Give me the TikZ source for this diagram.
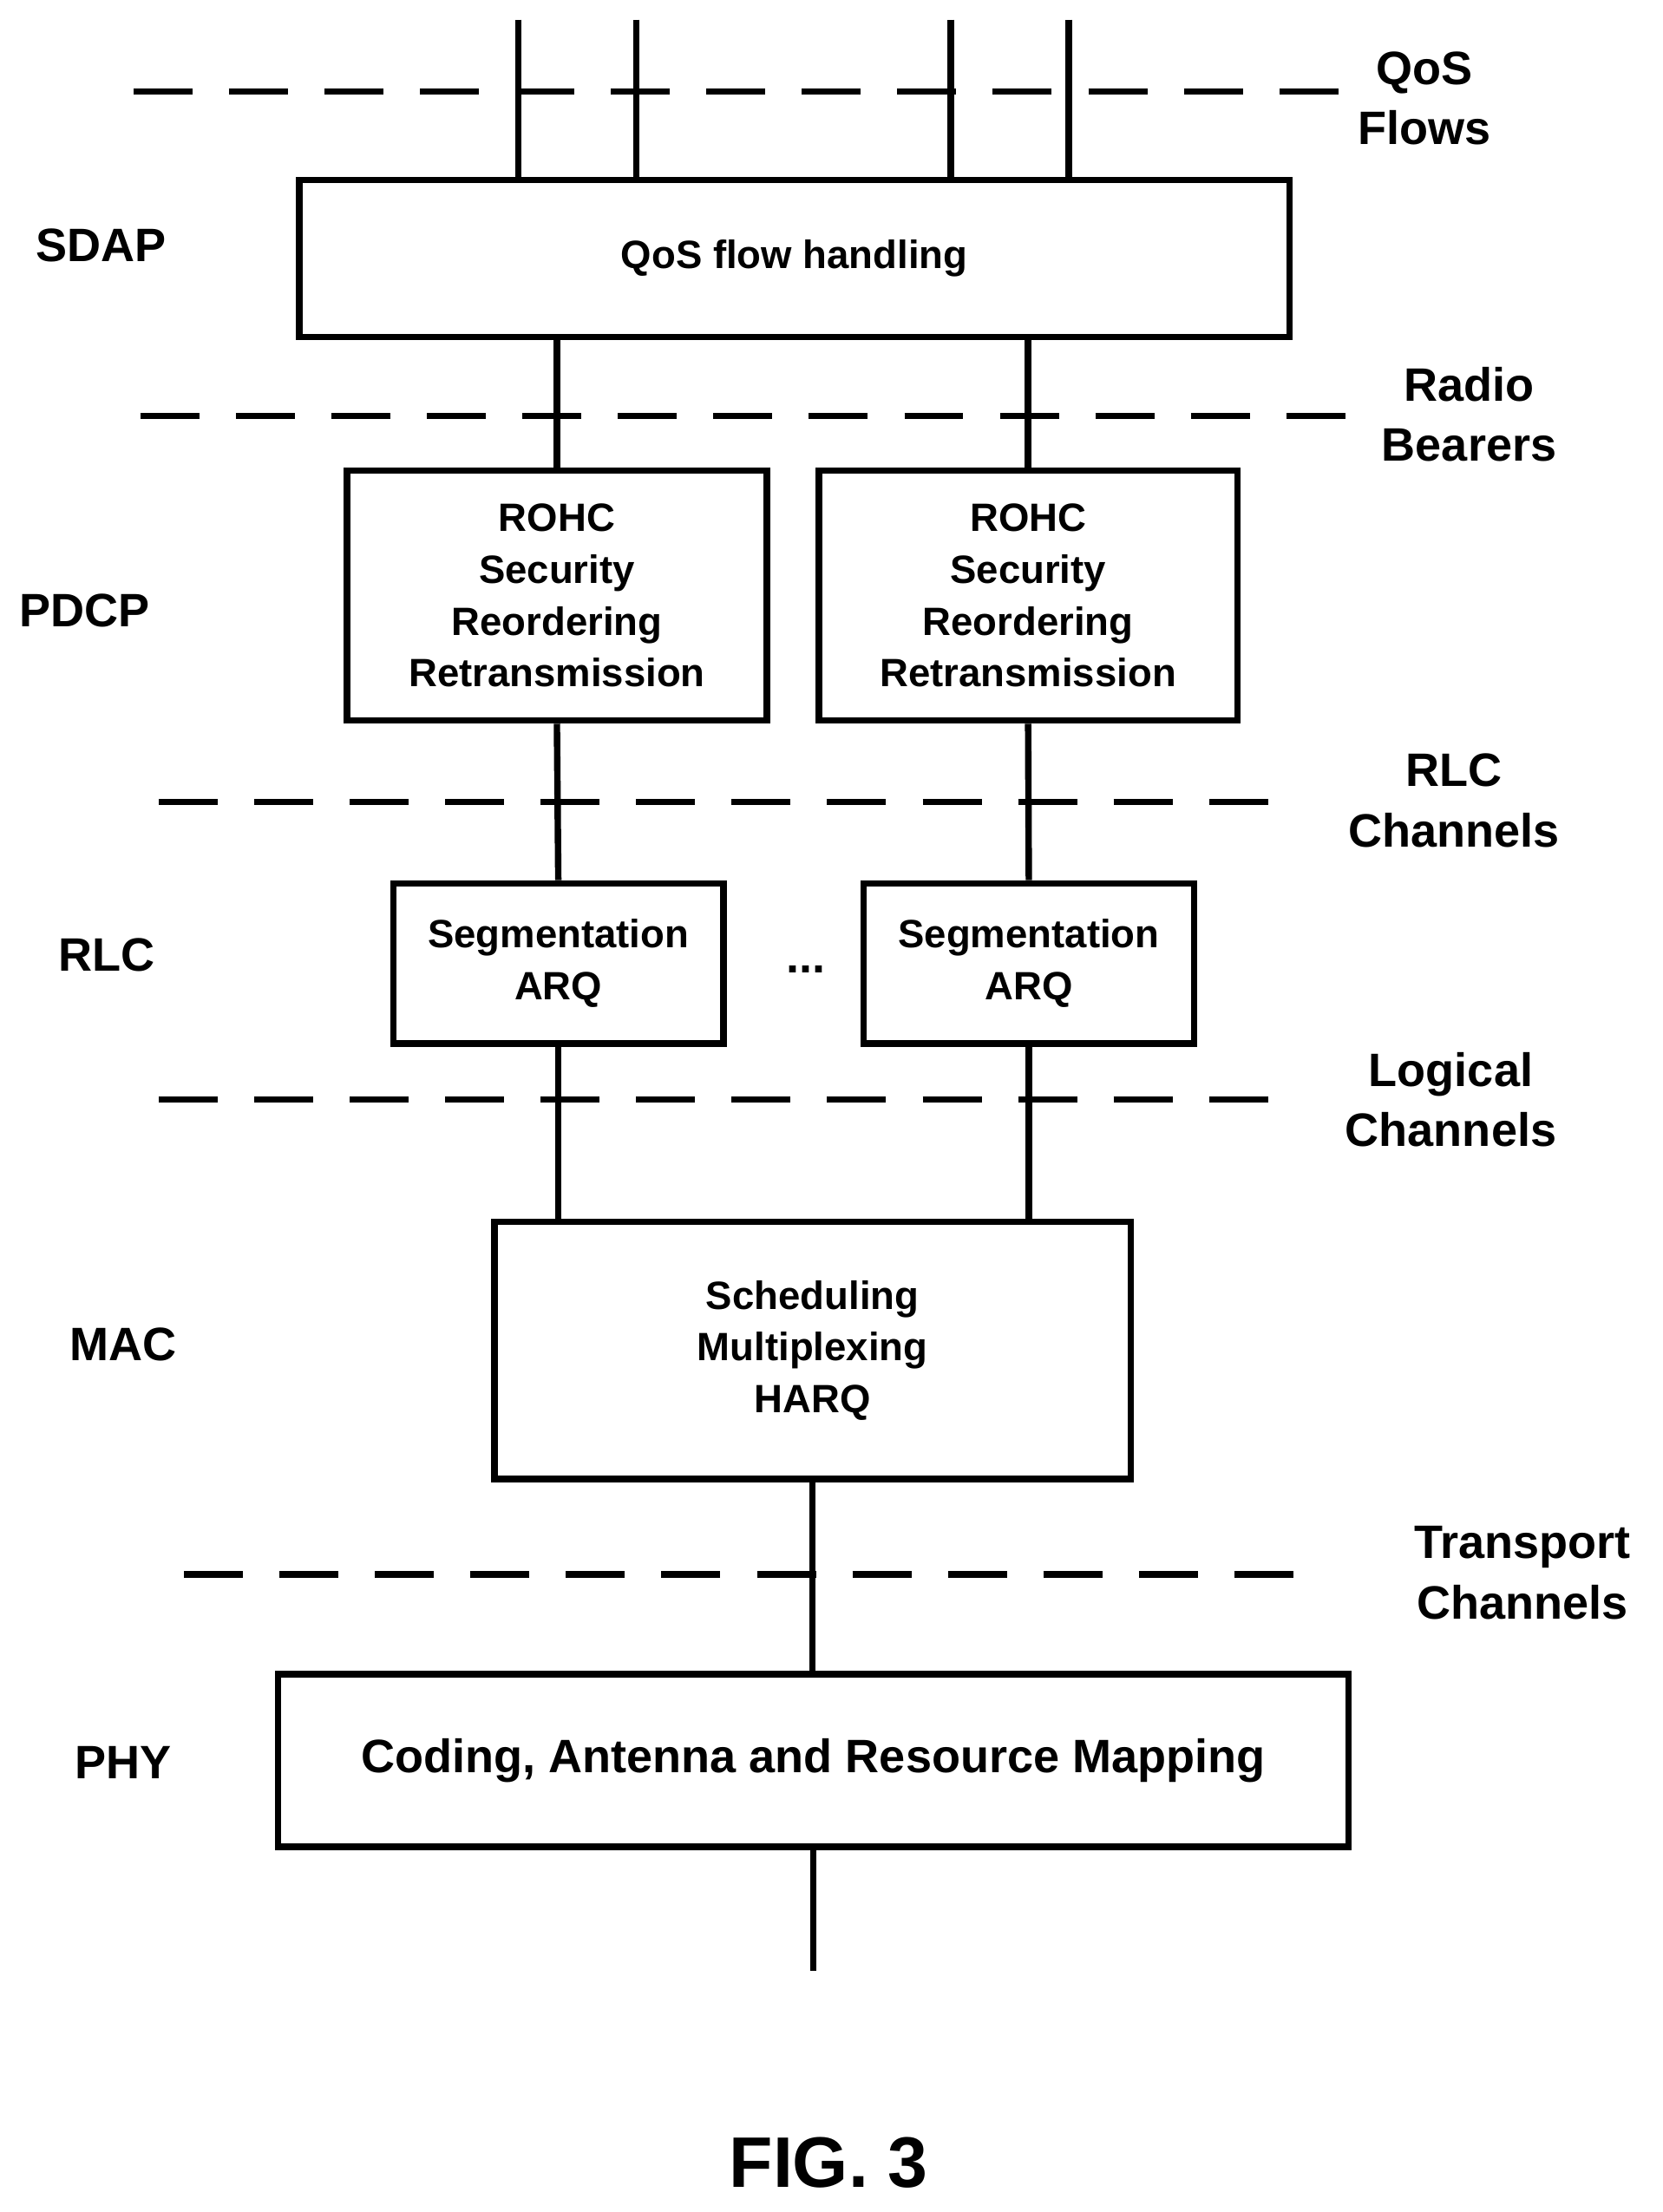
\documentclass[tikz,border=0pt]{standalone}
\usepackage{fontspec}
\setmainfont{Liberation Sans}
\usetikzlibrary{positioning,calc}

\begin{document}
\begin{tikzpicture}[x=0.02cm,y=-0.02cm,line width=2.6pt]
    \tikzstyle{layer}=[draw=black, rectangle, inner sep=0pt, align=center, font=\fontsize{16}{21}\selectfont\bfseries];
    \tikzstyle{side}=[align=center, font=\fontsize{19}{24.5}\selectfont\bfseries];
    \tikzstyle{cut}=[dash pattern=on 0.84cm off 0.52cm];

    \useasboundingbox (0,0) rectangle (1184,1575);

    % boxes
    \node[layer, minimum width=705*0.02cm, minimum height=112*0.02cm] (sdap) at (565.5,184) {QoS flow handling};
    \node[layer, minimum width=299*0.02cm, minimum height=178*0.02cm] (pdcpa) at (396.5,424) {ROHC\\Security\\Reordering\\Retransmission};
    \node[layer, minimum width=298*0.02cm, minimum height=178*0.02cm] (pdcpb) at (732,424) {ROHC\\Security\\Reordering\\Retransmission};
    \node[layer, minimum width=235*0.02cm, minimum height=114*0.02cm] (rlca) at (397.5,686) {Segmentation\\ARQ};
    \node[layer, minimum width=235*0.02cm, minimum height=114*0.02cm] (rlcb) at (732.5,686) {Segmentation\\ARQ};
    \node[font=\fontsize{19}{24}\selectfont\bfseries] (dots) at (574,690) {...};
    \node[layer, minimum width=453*0.02cm, minimum height=183*0.02cm] (mac) at (578.5,961.5) {Scheduling\\Multiplexing\\HARQ};
    \node[layer, minimum width=762*0.02cm, minimum height=123*0.02cm, font=\fontsize{19}{24}\selectfont\bfseries] (phy) at (579,1253.5) {Coding, Antenna and Resource Mapping};

    % layer names
    \node[side] (lsdap) at (72,175) {SDAP};
    \node[side] (lpdcp) at (60,435) {PDCP};
    \node[side] (lrlc) at (76,680) {RLC};
    \node[side] (lmac) at (88,957) {MAC};
    \node[side] (lphy) at (88,1255) {PHY};

    % channel names
    \node[side] (qos) at (1014,70) {QoS\\Flows};
    \node[side] (radio) at (1046,295) {Radio\\Bearers};
    \node[side] (rlcch) at (1035,570) {RLC\\Channels};
    \node[side] (logic) at (1033,783) {Logical\\Channels};
    \node[side] (trans) at (1084,1120) {Transport\\Channels};
    \node[font=\fontsize{29}{34}\selectfont\bfseries] (fig) at (590,1540) {FIG. 3};

    % dashed boundaries
    \draw[cut] (95,65) -- (955,65);
    \draw[cut] (100,296) -- (960,296);
    \draw[cut] (113,571) -- (918,571);
    \draw[cut] (113,783) -- (918,783);
    \draw[cut] (131,1121) -- (940,1121);

    % connectors
    \foreach \x in {369,453,677,761}
        \draw (\x,14) -- (sdap.north -| \x,0);
    \draw (sdap.south -| pdcpa.north) -- (pdcpa.north);
    \draw (sdap.south -| pdcpb.north) -- (pdcpb.north);
    \draw (pdcpa.south) -- (rlca.north);
    \draw (pdcpb.south) -- (rlcb.north);
    \draw (rlca.south) -- (mac.north -| rlca.south);
    \draw (rlcb.south) -- (mac.north -| rlcb.south);
    \draw (mac.south) -- (phy.north -| mac.south);
    \coordinate (out) at (579,1403);
    \draw (phy.south -| out) -- (out);
\end{tikzpicture}
\end{document}
